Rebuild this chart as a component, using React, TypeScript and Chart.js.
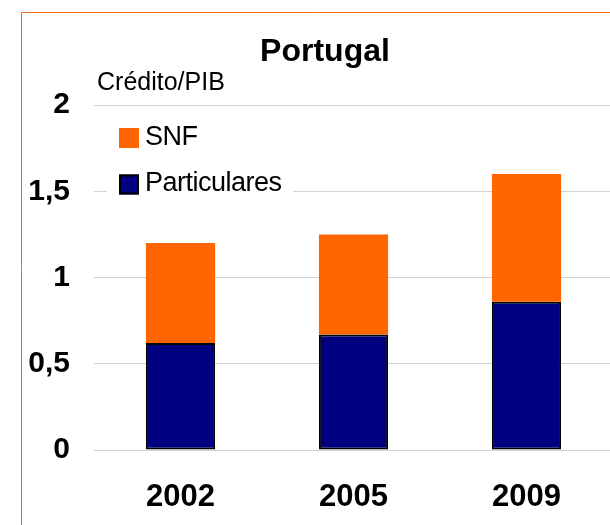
import { useEffect, useRef } from 'react';
import { Chart, registerables } from 'chart.js';

Chart.register(...registerables);

const categories = ['2002', '2005', '2009'];
const particulares = [0.62, 0.67, 0.86];
const snf = [0.58, 0.58, 0.74];
const yMin = 0;
const yMax = 2;
const yStep = 0.5;
const chartTitle = 'Portugal';
const yAxisTitle = 'Crédito/PIB';
const seriesNames = ['Particulares', 'SNF'];

const FONT = "'Liberation Sans', Arial, Helvetica, sans-serif";
const NAVY = '#000080';
const ORANGE = '#FF6600';

const framePlugin = {
  id: 'frame',
  beforeDraw(chart: any) {
    const { ctx, width, height } = chart;
    ctx.save();
    ctx.fillStyle = '#ffffff';
    ctx.fillRect(0, 0, width, height);
    ctx.strokeStyle = '#F26B1D';
    ctx.lineWidth = 1;
    ctx.beginPath();
    ctx.moveTo(21.5, height);
    ctx.lineTo(21.5, 12.5);
    ctx.lineTo(width, 12.5);
    ctx.stroke();
    ctx.restore();
  },
};

const overlayPlugin = {
  id: 'overlay',
  afterDraw(chart: any) {
    const { ctx, chartArea } = chart;
    const L = chartArea.left;
    const T = chartArea.top;
    ctx.save();
    // title
    ctx.fillStyle = '#000000';
    ctx.textBaseline = 'alphabetic';
    ctx.textAlign = 'center';
    ctx.font = `bold 32px ${FONT}`;
    ctx.fillText(chartTitle, L + 231, T - 44);
    // y axis title
    ctx.textAlign = 'left';
    ctx.font = `25px ${FONT}`;
    ctx.fillText(yAxisTitle, L + 3, T - 15);
    // legend
    ctx.fillStyle = '#ffffff';
    ctx.fillRect(L + 13, T + 8, 186, 92);
    const datasets = chart.data.datasets.slice().reverse();
    ctx.font = `27px ${FONT}`;
    (ctx as any).letterSpacing = '-0.5px';
    datasets.forEach((ds: any, i: number) => {
      const boxTop = T + 23 + i * 46.5;
      const boxLeft = L + 25;
      ctx.fillStyle = ds.backgroundColor;
      ctx.fillRect(boxLeft, boxTop, 20, 20);
      if (ds.borderWidth) {
        ctx.strokeStyle = ds.borderColor;
        ctx.lineWidth = 2;
        ctx.strokeRect(boxLeft + 1, boxTop + 1, 18, 18);
      }
      ctx.fillStyle = '#000000';
      ctx.fillText(ds.label, L + 51, boxTop + 16.5);
    });
    ctx.restore();
  },
};

export default function App() {
  const ref = useRef<HTMLCanvasElement | null>(null);

  useEffect(() => {
    if (!ref.current) return;
    const chart = new Chart(ref.current, {
      type: 'bar',
      data: {
        labels: categories,
        datasets: [
          {
            label: seriesNames[0],
            data: particulares,
            backgroundColor: NAVY,
            borderColor: '#000000',
            borderWidth: 2,
            borderSkipped: false,
            barPercentage: 0.4,
            categoryPercentage: 1,
          },
          {
            label: seriesNames[1],
            data: snf,
            backgroundColor: ORANGE,
            borderWidth: 0,
            barPercentage: 0.4,
            categoryPercentage: 1,
          },
        ],
      },
      options: {
        responsive: false,
        animation: false,
        devicePixelRatio: 1,
        layout: { padding: { top: 105, left: 0, right: 0, bottom: 0 } },
        plugins: {
          legend: { display: false },
          title: { display: false },
          tooltip: { enabled: false },
        },
        scales: {
          x: {
            stacked: true,
            grid: { display: false, drawTicks: false },
            border: { display: false },
            ticks: {
              color: '#000000',
              font: { family: FONT, size: 31, weight: 'bold' },
              padding: 29,
              maxRotation: 0,
            },
            afterFit(scale: any) {
              scale.height = 75;
            },
          },
          y: {
            stacked: true,
            min: yMin,
            max: yMax,
            grid: { color: '#d2d2d2', lineWidth: 1, drawTicks: false },
            border: { display: false },
            ticks: {
              stepSize: yStep,
              color: '#000000',
              font: { family: FONT, size: 30, weight: 'bold' },
              padding: 24,
              callback: (v: any) => String(v).replace('.', ','),
            },
            afterFit(scale: any) {
              scale.width = 94;
            },
          },
        },
      },
      plugins: [framePlugin, overlayPlugin],
    });
    return () => chart.destroy();
  }, []);

  return (
    <div
      style={{
        position: 'absolute',
        left: 0,
        top: 0,
        width: 610,
        height: 525,
        overflow: 'hidden',
        background: '#ffffff',
      }}
    >
      <canvas ref={ref} width={613} height={525} style={{ display: 'block' }} />
    </div>
  );
}
